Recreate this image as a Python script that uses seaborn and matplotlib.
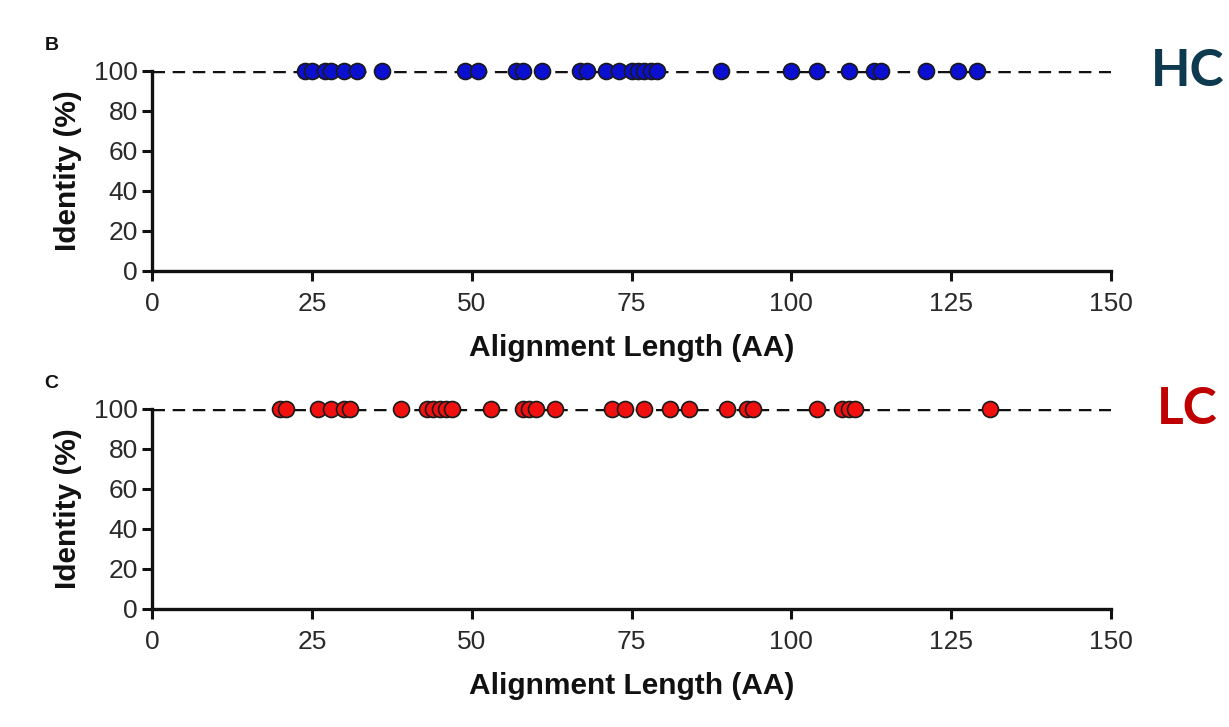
import matplotlib
matplotlib.use("Agg")
import matplotlib.pyplot as plt
import seaborn as sns
import pandas as pd

# Data (alignment length in AA, identity in %)
hc_length = [24, 25, 27, 28, 30, 32, 36, 49, 51, 57, 58, 61, 67, 68, 71, 73,
             75, 76, 77, 78, 79, 89, 100, 104, 109, 113, 114, 121, 126, 129]
hc_identity = [100] * len(hc_length)
lc_length = [20, 21, 26, 28, 30, 31, 39, 43, 44, 45, 46, 47, 53, 58, 59, 60,
             63, 72, 74, 77, 81, 84, 90, 93, 94, 104, 108, 109, 110, 131]
lc_identity = [100] * len(lc_length)

x_ticks = [0, 25, 50, 75, 100, 125, 150]
y_ticks = [0, 20, 40, 60, 80, 100]
panel_letters = ["B", "C"]
panel_names = ["HC", "LC"]
reference_line = 100

sns.set_style("ticks")
plt.rcParams['font.family'] = ['Liberation Sans', 'DejaVu Sans']

fig = plt.figure(figsize=(12.29, 7.27), dpi=100)
ax1 = fig.add_axes([152/1229, 1 - 271/727, (1111-152)/1229, 200/727])
ax2 = fig.add_axes([152/1229, 1 - 609/727, (1111-152)/1229, 200/727])

panels = [
    (ax1, hc_length, hc_identity, "#0a0fd0", "#0d3a4e"),
    (ax2, lc_length, lc_identity, "#f01010", "#c00000"),
]

for (ax, xs, ys, col, ncol), letter, name in zip(panels, panel_letters, panel_names):
    df = pd.DataFrame({"Alignment Length (AA)": xs, "Identity (%)": ys})
    ax.axhline(reference_line, color="#111111", lw=2.5, ls=(0, (3.6, 2.2)), zorder=1)
    sns.scatterplot(data=df, x="Alignment Length (AA)", y="Identity (%)", ax=ax,
                    color=col, edgecolor="#1a1a1a", linewidth=1.2, s=132,
                    zorder=3, clip_on=False, legend=False)
    ax.set_xlim(0, 150)
    ax.set_ylim(0, 100)
    ax.set_xticks(x_ticks)
    ax.set_yticks(y_ticks)
    ax.tick_params(axis="both", length=7, width=2.2, color="#111111",
                   labelsize=19, labelcolor="#2a2a2a", pad=3)
    ax.tick_params(axis="x", pad=8)
    for side in ["left", "bottom"]:
        ax.spines[side].set_linewidth(2.4)
        ax.spines[side].set_color("#111111")
    sns.despine(ax=ax)
    ax.set_xlabel("Alignment Length (AA)", fontsize=21.5, fontweight="bold",
                  color="#111111", labelpad=13)
    ax.set_ylabel("Identity (%)", fontsize=21.5, fontweight="bold",
                  color="#111111", labelpad=9)
    ax.text(-0.105, 1.13, letter, transform=ax.transAxes, fontsize=14,
            fontweight="bold", color="#111111", ha="center", va="center")
    ax.text(1.080, 1.0, name, transform=ax.transAxes, fontsize=37,
            fontweight="bold", color=ncol, ha="center", va="center",
            family=["Lato", "DejaVu Sans"])

fig.savefig("out.png", dpi=100, facecolor="white")
